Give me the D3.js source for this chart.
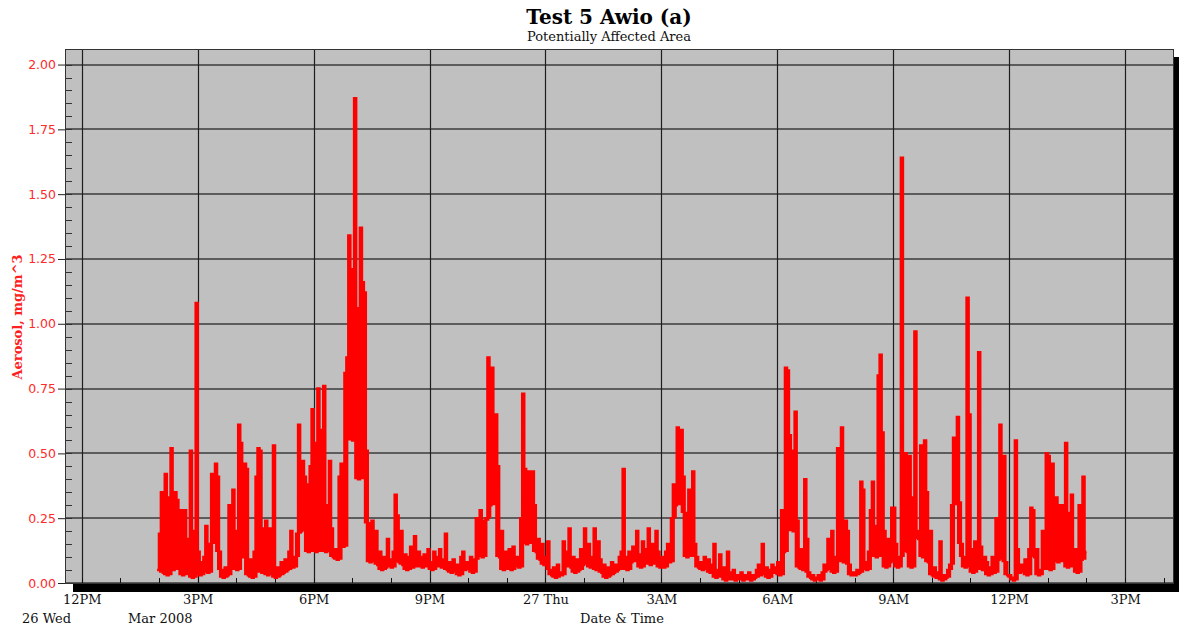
<!DOCTYPE html>
<html>
<head>
<meta charset="utf-8">
<script src="https://cdn.jsdelivr.net/npm/d3@7"></script>
<style>
body { margin: 0; background: #fff; }
svg { display: block; }
</style>
</head>
<body>
<div id="chart"></div>
<script>
// aerosol readings, one every 3 minutes from 13:57 on 26 Mar 2008 (rows = hours)
var startTime = new Date(2008, 2, 26, 13, 57);
var stepMinutes = 3;
var aerosol = [
  0.05,
  0.19, 0.35, 0.04, 0.42, 0.03, 0.33, 0.52, 0.05, 0.35, 0.32, 0.06, 0.28, 0.03, 0.28, 0.17, 0.04, 0.51, 0.02, 0.20, 1.08, // 2PM
  0.12, 0.03, 0.08, 0.10, 0.22, 0.04, 0.15, 0.42, 0.30, 0.46, 0.41, 0.12, 0.05, 0.02, 0.06, 0.03, 0.30, 0.08, 0.36, 0.20, // 3PM
  0.05, 0.61, 0.54, 0.10, 0.46, 0.44, 0.03, 0.09, 0.02, 0.12, 0.41, 0.52, 0.51, 0.04, 0.21, 0.24, 0.03, 0.21, 0.06, 0.53, // 4PM
  0.02, 0.06, 0.03, 0.08, 0.04, 0.09, 0.05, 0.12, 0.20, 0.06, 0.10, 0.19, 0.61, 0.20, 0.47, 0.41, 0.38, 0.12, 0.45, 0.67, // 5PM
  0.54, 0.12, 0.75, 0.47, 0.59, 0.76, 0.12, 0.30, 0.47, 0.21, 0.10, 0.13, 0.09, 0.41, 0.46, 0.14, 0.81, 0.87, 1.34, 1.21, // 6PM
  0.55, 1.87, 1.06, 0.40, 1.37, 1.16, 1.12, 0.51, 0.23, 0.08, 0.24, 0.10, 0.20, 0.07, 0.12, 0.05, 0.10, 0.06, 0.17, 0.09, // 7PM
  0.06, 0.12, 0.34, 0.26, 0.08, 0.20, 0.07, 0.11, 0.05, 0.10, 0.14, 0.06, 0.18, 0.08, 0.12, 0.10, 0.06, 0.11, 0.07, 0.13, // 8PM
  0.08, 0.05, 0.12, 0.07, 0.10, 0.13, 0.06, 0.09, 0.19, 0.05, 0.08, 0.04, 0.09, 0.06, 0.07, 0.03, 0.10, 0.12, 0.05, 0.08, // 9PM
  0.06, 0.10, 0.04, 0.09, 0.25, 0.12, 0.28, 0.10, 0.24, 0.25, 0.87, 0.30, 0.83, 0.49, 0.65, 0.45, 0.10, 0.20, 0.05, 0.12, // 10PM
  0.07, 0.13, 0.05, 0.14, 0.08, 0.10, 0.06, 0.25, 0.73, 0.44, 0.15, 0.43, 0.20, 0.43, 0.30, 0.12, 0.17, 0.09, 0.15, 0.07, // 11PM
  0.10, 0.16, 0.05, 0.03, 0.06, 0.02, 0.07, 0.04, 0.03, 0.16, 0.08, 0.12, 0.21, 0.06, 0.10, 0.04, 0.09, 0.05, 0.13, 0.07, // 12AM
  0.21, 0.08, 0.15, 0.06, 0.10, 0.21, 0.05, 0.16, 0.09, 0.04, 0.07, 0.02, 0.06, 0.03, 0.08, 0.04, 0.07, 0.05, 0.10, 0.12, // 1AM
  0.44, 0.10, 0.05, 0.12, 0.08, 0.14, 0.10, 0.20, 0.11, 0.06, 0.16, 0.09, 0.13, 0.21, 0.07, 0.15, 0.09, 0.20, 0.12, 0.06, // 2AM
  0.10, 0.06, 0.12, 0.15, 0.08, 0.25, 0.38, 0.30, 0.60, 0.45, 0.59, 0.41, 0.27, 0.10, 0.36, 0.20, 0.43, 0.15, 0.10, 0.06, // 3AM
  0.08, 0.05, 0.10, 0.06, 0.09, 0.04, 0.07, 0.15, 0.02, 0.05, 0.11, 0.03, 0.06, 0.01, 0.12, 0.04, 0.02, 0.05, 0.01, 0.03, // 4AM
  0.02, 0.04, 0.01, 0.03, 0.02, 0.04, 0.01, 0.03, 0.02, 0.05, 0.07, 0.03, 0.15, 0.04, 0.06, 0.02, 0.05, 0.07, 0.04, 0.06, // 5AM
  0.08, 0.03, 0.28, 0.12, 0.83, 0.82, 0.57, 0.51, 0.20, 0.66, 0.24, 0.06, 0.13, 0.05, 0.40, 0.17, 0.04, 0.02, 0.03, 0.01, // 6AM
  0.02, 0.03, 0.01, 0.04, 0.07, 0.05, 0.17, 0.08, 0.20, 0.04, 0.10, 0.52, 0.12, 0.60, 0.08, 0.24, 0.20, 0.07, 0.03, 0.04, // 7AM
  0.03, 0.05, 0.04, 0.39, 0.36, 0.08, 0.05, 0.12, 0.28, 0.39, 0.22, 0.10, 0.80, 0.88, 0.58, 0.20, 0.06, 0.17, 0.08, 0.29, // 8AM
  0.29, 0.15, 0.06, 0.10, 1.64, 0.36, 0.50, 0.12, 0.49, 0.06, 0.33, 0.97, 0.20, 0.17, 0.53, 0.10, 0.55, 0.35, 0.08, 0.20, // 9AM
  0.03, 0.06, 0.02, 0.04, 0.16, 0.01, 0.03, 0.02, 0.05, 0.07, 0.30, 0.56, 0.40, 0.64, 0.31, 0.15, 0.10, 0.06, 1.10, 0.65, // 10AM
  0.13, 0.04, 0.16, 0.13, 0.89, 0.14, 0.05, 0.10, 0.08, 0.03, 0.06, 0.10, 0.04, 0.25, 0.09, 0.61, 0.20, 0.49, 0.08, 0.03, // 11AM
  0.03, 0.02, 0.01, 0.55, 0.13, 0.04, 0.07, 0.05, 0.09, 0.03, 0.13, 0.29, 0.28, 0.10, 0.13, 0.03, 0.05, 0.20, 0.08, 0.50, // 12PM
  0.49, 0.05, 0.46, 0.14, 0.33, 0.08, 0.30, 0.12, 0.30, 0.54, 0.06, 0.27, 0.34, 0.10, 0.13, 0.04, 0.30, 0.09, 0.41, 0.12, // 1PM
  0.12
];

var yTicks = [0, 0.25, 0.5, 0.75, 1.0, 1.25, 1.5, 1.75, 2.0];
var xTickLabels = ["12PM", "3PM", "6PM", "9PM", "27 Thu", "3AM", "6AM", "9AM", "12PM", "3PM"];
var timeStart = new Date(2008, 2, 26, 11, 34);
var timeEnd = new Date(2008, 2, 27, 16, 16);

var width = 1179, height = 630;
var plot = { left: 65, top: 49, right: 1174, bottom: 584 };

// each 3-minute reading also keeps the lowest reading around it, so the
// dense trace in between can be filled like the original 1-minute plot
var data = aerosol.map(function (v, i) {
    var lo = d3.min(aerosol.slice(Math.max(0, i - 2), i + 3));
    return { t: d3.timeMinute.offset(startTime, i * stepMinutes), v: v, lo: lo };
});

var svg = d3.select("#chart").append("svg")
    .attr("width", width)
    .attr("height", height);

var x = d3.scaleTime()
    .domain([timeStart, timeEnd])
    .range([plot.left, plot.right]);

var y = d3.scaleLinear()
    .domain([0, 2.06])
    .range([plot.bottom - 1, plot.top]);

// shadow + background
svg.append("rect")
    .attr("x", plot.left + 8).attr("y", plot.top + 8)
    .attr("width", plot.right - plot.left).attr("height", plot.bottom - plot.top)
    .attr("fill", "#000");
svg.append("rect")
    .attr("x", plot.left).attr("y", plot.top)
    .attr("width", plot.right - plot.left).attr("height", plot.bottom - plot.top)
    .attr("fill", "#c0c0c0");

// horizontal grid
svg.append("g").selectAll("line")
    .data(yTicks)
    .enter().append("line")
    .attr("x1", plot.left).attr("x2", plot.right)
    .attr("y1", d => Math.round(y(d)))
    .attr("y2", d => Math.round(y(d)))
    .attr("stroke", "#5c5c5c")
    .attr("stroke-width", 2);

// vertical grid every 3 hours
var majorTimes = x.ticks(d3.timeHour.every(3));
svg.append("g").selectAll("line")
    .data(majorTimes)
    .enter().append("line")
    .attr("x1", d => Math.round(x(d)) + 0.5)
    .attr("x2", d => Math.round(x(d)) + 0.5)
    .attr("y1", plot.top).attr("y2", plot.bottom)
    .attr("stroke", "#1e1e1e")
    .attr("stroke-width", 1.2);

// hourly minor ticks along the bottom
svg.append("g").selectAll("line")
    .data(x.ticks(d3.timeHour.every(1)))
    .enter().append("line")
    .attr("x1", d => Math.round(x(d)) + 0.5)
    .attr("x2", d => Math.round(x(d)) + 0.5)
    .attr("y1", plot.bottom - 6).attr("y2", plot.bottom)
    .attr("stroke", "#111");

// minor y ticks inside the left edge
svg.append("g").selectAll("line")
    .data(d3.range(0, 2.001, 0.05))
    .enter().append("line")
    .attr("x1", plot.left).attr("x2", plot.left + 7)
    .attr("y1", d => Math.round(y(d)) + 0.5)
    .attr("y2", d => Math.round(y(d)) + 0.5)
    .attr("stroke", "#333");

// data
svg.append("clipPath").attr("id", "clip")
    .append("rect")
    .attr("x", plot.left).attr("y", plot.top)
    .attr("width", plot.right - plot.left).attr("height", plot.bottom - plot.top);

var band = d3.area()
    .x(d => x(d.t))
    .y0(d => y(d.lo))
    .y1(d => y(d.v))
    .curve(d3.curveStepAfter);

var line = d3.line()
    .x(d => x(d.t))
    .y(d => y(d.v))
    .curve(d3.curveStepAfter);

var trace = svg.append("g").attr("clip-path", "url(#clip)");

trace.append("path")
    .datum(data)
    .attr("d", band)
    .attr("fill", "#ff0000");

trace.append("path")
    .datum(data)
    .attr("d", line)
    .attr("fill", "none")
    .attr("stroke", "#ff0000")
    .attr("stroke-width", 2.6);

// frame
svg.append("rect")
    .attr("x", plot.left + 0.5).attr("y", plot.top + 0.5)
    .attr("width", plot.right - plot.left - 1).attr("height", plot.bottom - plot.top - 1)
    .attr("fill", "none")
    .attr("stroke", "#333");

// y axis
var yAxis = svg.append("g")
    .attr("transform", "translate(" + plot.left + ",0)")
    .call(d3.axisLeft(y).tickValues(yTicks).tickFormat(d3.format(".2f")).tickSize(7).tickPadding(2));
yAxis.select(".domain").remove();
yAxis.selectAll(".tick line").attr("stroke", "#222");
yAxis.selectAll("text")
    .attr("fill", "#ff2a2a")
    .style("font-family", "'DejaVu Sans', sans-serif")
    .style("font-size", "12.5px");

// x axis labels
var xAxis = svg.append("g")
    .attr("transform", "translate(0," + (plot.bottom + 8) + ")")
    .call(d3.axisBottom(x).ticks(d3.timeHour.every(3))
        .tickFormat((d, i) => xTickLabels[i]).tickSize(0).tickPadding(3));
xAxis.select(".domain").remove();
xAxis.selectAll("text")
    .attr("fill", "#111")
    .style("font-family", "'DejaVu Serif', serif")
    .style("font-size", "13px");

var serif = "'DejaVu Serif', serif";

svg.append("text").attr("x", 22).attr("y", 623)
    .style("font-family", serif).style("font-size", "13px").attr("fill", "#111")
    .text("26 Wed");
svg.append("text").attr("x", 128).attr("y", 623)
    .style("font-family", serif).style("font-size", "13px").attr("fill", "#111")
    .text("Mar 2008");
svg.append("text").attr("x", 622).attr("y", 623)
    .attr("text-anchor", "middle")
    .style("font-family", serif).style("font-size", "13px").attr("fill", "#111")
    .text("Date & Time");

// titles
svg.append("text").attr("x", 609).attr("y", 24)
    .attr("text-anchor", "middle")
    .style("font-family", serif).style("font-size", "20px").style("font-weight", "bold")
    .text("Test 5 Awio (a)");
svg.append("text").attr("x", 609).attr("y", 41)
    .attr("text-anchor", "middle")
    .style("font-family", serif).style("font-size", "13px").attr("fill", "#111")
    .text("Potentially Affected Area");

svg.append("text")
    .attr("transform", "translate(22,317) rotate(-90)")
    .attr("text-anchor", "middle")
    .style("font-family", serif).style("font-size", "13px").style("font-weight", "bold")
    .attr("fill", "#ff2020")
    .text("Aerosol, mg/m^3");
</script>
</body>
</html>
